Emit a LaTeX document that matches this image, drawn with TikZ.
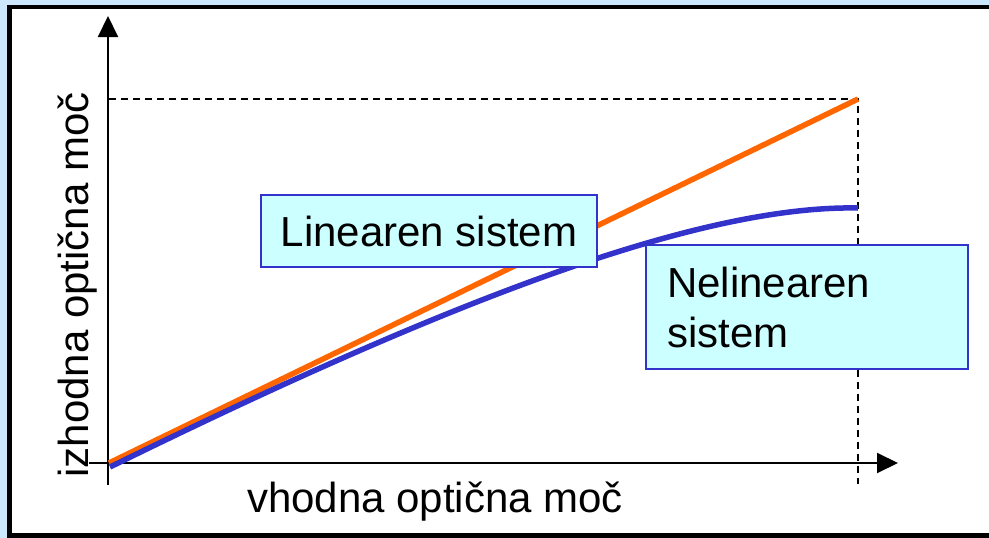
\documentclass[tikz,border=0pt]{standalone}
\usepackage{fontspec}
\setmainfont{Liberation Sans}
\usetikzlibrary{arrows.meta}
\definecolor{slidebg}{HTML}{CCE8FF}
\definecolor{linorange}{HTML}{FF6600}
\definecolor{nlblue}{HTML}{3333CC}
\definecolor{boxfill}{HTML}{CCFFFF}
\begin{document}
\begin{tikzpicture}
[x=1pt, y=-1pt, every node/.style={inner sep=0pt},
 axis/.style={line width=2pt, -{Triangle[width=20pt, length=21pt]}},
 guide/.style={line width=2pt, dash pattern=on 7pt off 5pt},
 curve/.style={line width=5.5pt},
 labelbox/.style={draw=nlblue, line width=1.5pt, fill=boxfill},
 bigtext/.style={font=\fontsize{42}{50}\selectfont}]
\useasboundingbox (0,0) rectangle (989,538);
\clip (0,0) rectangle (989,538);
\fill [slidebg] (0,0) rectangle (989,538);
\draw [line width=4.5pt, fill=white] (9.5,7) rectangle (1010,535.5);
% points of the graph
\coordinate (O) at (108,463);
\coordinate (ytop) at (108,16);
\coordinate (ybot) at (108,485);
\coordinate (xleft) at (89,463);
\coordinate (xright) at (898,463);
\coordinate (ymax) at (109,99);
\coordinate (P) at (858,99);
\coordinate (Pfoot) at (858,484);
\coordinate (Q0) at (110,467);
\coordinate (Q) at (858,208);
% guides and axes
\draw [guide] (ymax) -- (P) -- (Pfoot);
\draw [axis] (ybot) -- (ytop);
\draw [axis] (xleft) -- (xright);
% characteristics
\draw [curve, color=linorange] (109,463) -- (P);
\draw [curve, color=nlblue] (Q0) .. controls (450,300) and (700,205) .. (Q);
% labels
\node (lin) [labelbox, bigtext, minimum width=336pt, minimum height=72pt] at (429,231) {Linearen sistem};
\node (nonlin) [labelbox, bigtext, minimum width=322pt, minimum height=124pt, inner xsep=21pt, text width=280pt, align=left] at (807,307) {Nelinearen\\sistem};
\node (ylab) [bigtext, rotate=90, anchor=base] at (88,285) {izhodna optična moč};
\node (xlab) [bigtext, anchor=base] at (435,512) {vhodna optična moč};
\end{tikzpicture}
\end{document}
